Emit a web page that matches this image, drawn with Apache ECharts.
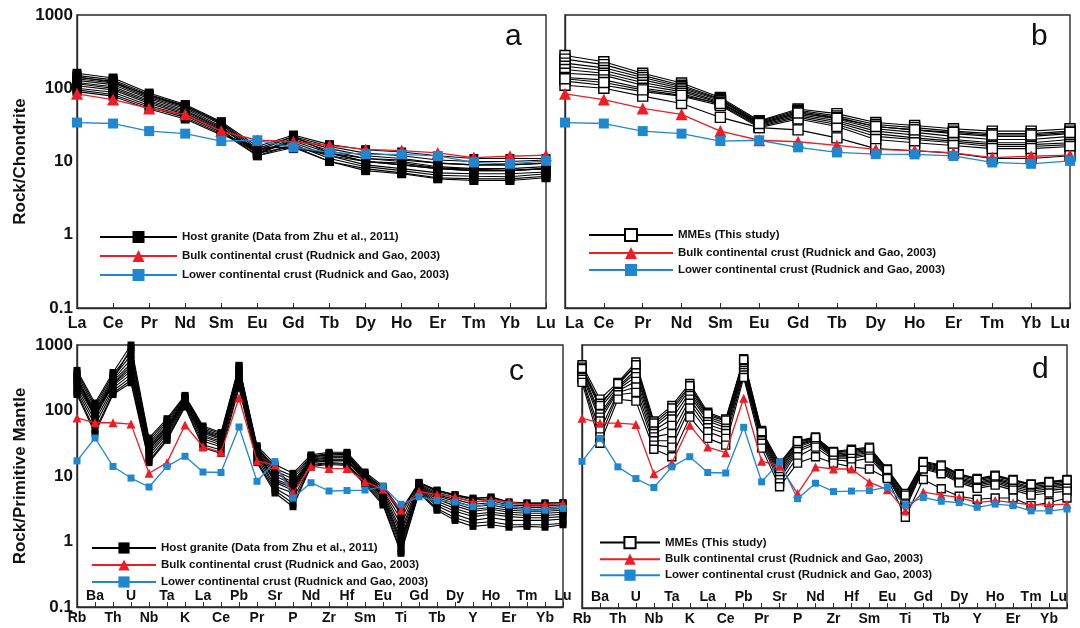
<!DOCTYPE html>
<html>
<head>
<meta charset="utf-8">
<script src="https://cdn.jsdelivr.net/npm/echarts@6/dist/echarts.min.js"></script>
<style>
  html, body { margin: 0; background: #fff; }
  #chart { width: 1080px; height: 628px; }
</style>
</head>
<body>
<div id="chart"></div>
<script>
// element orders
const reeLabels = ['La', 'Ce', 'Pr', 'Nd', 'Sm', 'Eu', 'Gd', 'Tb', 'Dy', 'Ho', 'Er', 'Tm', 'Yb', 'Lu'];
const spiderLabels = ['Rb', 'Ba', 'Th', 'U', 'Nb', 'Ta', 'K', 'La', 'Ce', 'Pb', 'Pr', 'Sr', 'P', 'Nd', 'Zr',
    'Hf', 'Sm', 'Eu', 'Ti', 'Gd', 'Tb', 'Dy', 'Y', 'Ho', 'Er', 'Tm', 'Yb', 'Lu'];
const yTicks = [0.1, 1, 10, 100, 1000];

// reference crusts (Rudnick and Gao, 2003)
const bulkCrustREE = [84, 70, 53, 44, 26, 19.5, 18.6, 16.6, 14.6, 14.1, 13.1, 11.3, 11.8, 12.2];
const lowerCrustREE = [34, 33, 26, 24, 19, 19.5, 15.6, 13.3, 12.6, 12.5, 11.9, 9.7, 9.3, 10.2];
const bulkCrustSpider = [77, 65, 65, 62, 11, 16, 60, 28, 23, 155, 17, 14.7, 5.5, 14, 13, 13, 8.2, 6.3, 3.0,
    5.8, 5.2, 4.8, 4.0, 4.3, 4.0, 3.7, 3.7, 3.8];
const lowerCrustSpider = [17, 38, 14, 9.3, 6.8, 14, 20, 11.5, 11.3, 56, 8.3, 16.6, 4.6, 7.9, 5.9, 6.0, 6.1,
    6.9, 3.7, 4.8, 4.2, 4.0, 3.4, 3.8, 3.6, 3.0, 3.0, 3.2];

// host granite, chondrite normalised (panel a)
const graniteREE = [
    [160, 138, 86, 60, 35, 16, 23, 17, 14.5, 13.5, 12, 11, 11, 11],
    [150, 130, 82, 58, 33, 14, 22, 16, 13, 12, 10.5, 10, 10, 10.5],
    [140, 125, 78, 55, 32, 13, 21, 15, 12, 11, 9.5, 9, 9, 9.5],
    [135, 118, 75, 53, 30, 12.5, 20, 14, 11, 10, 8.5, 8, 8, 8.5],
    [128, 112, 72, 50, 29, 13, 19, 13, 10, 9, 8, 7.5, 7.5, 8],
    [120, 105, 68, 48, 28, 14, 18, 12, 9, 8, 7, 6.8, 6.8, 7.2],
    [115, 100, 65, 46, 27, 12, 17, 11, 8.5, 7.5, 6.5, 6.3, 6.2, 6.8],
    [108, 95, 62, 44, 26, 13, 16, 10, 8, 7, 6, 5.8, 5.8, 6.3],
    [100, 88, 58, 42, 25, 12, 15.5, 10, 7.5, 6.8, 5.8, 5.5, 5.5, 6],
    [95, 82, 55, 40, 24, 15, 16, 12, 10, 9, 8, 7.5, 7.5, 8],
    [90, 78, 52, 38, 23, 16, 15, 13, 11, 10.5, 9.5, 9, 9, 9.5],
    [145, 120, 80, 57, 34, 15, 22, 13, 10, 9.5, 8.2, 7.8, 7.6, 8]
];

// MMEs, chondrite normalised (panel b)
const mmeREE = [
    [280, 230, 160, 118, 75, 36, 52, 45, 34, 31, 28, 26, 26, 28],
    [250, 210, 150, 110, 72, 35, 50, 42, 32, 29, 26, 24, 24, 26],
    [220, 190, 140, 105, 70, 34, 48, 40, 30, 27, 24, 22, 22, 24],
    [200, 175, 130, 100, 68, 33, 46, 38, 28, 25, 22, 20, 20, 22],
    [180, 160, 120, 95, 65, 32, 44, 36, 26, 23, 20, 18, 18, 20],
    [160, 150, 110, 90, 63, 31, 42, 34, 24, 21, 19, 17, 17, 18],
    [140, 130, 100, 85, 60, 30, 40, 32, 22, 20, 18, 16, 16, 17],
    [125, 110, 90, 78, 58, 29, 38, 30, 20, 18, 16.5, 15, 15, 16],
    [110, 100, 78, 62, 40, 29, 27, 21, 15, 14, 13, 11, 11, 12],
    [135, 120, 95, 80, 62, 33, 46, 39, 30, 27, 25, 23, 23, 25]
];

// host granite, primitive mantle normalised (panel c)
const graniteSpider = [
    [410, 130, 380, 1000, 38, 75, 170, 58, 46, 480, 29, 15, 11, 21, 23, 23, 11.5, 7, 3, 8, 6, 5.2, 4.5, 4.8, 4, 3.9, 3.9, 3.9],
    [380, 120, 350, 800, 35, 70, 165, 55, 44, 450, 28, 13, 10, 20, 22, 22, 11, 6.5, 2.6, 7.8, 5.8, 5, 4.3, 4.5, 3.8, 3.7, 3.7, 3.8],
    [350, 110, 320, 700, 32, 65, 160, 52, 42, 420, 27, 12, 9, 19.5, 21, 21, 10.5, 6, 2.2, 7.5, 5.5, 4.7, 4, 4.2, 3.6, 3.5, 3.5, 3.6],
    [320, 100, 300, 600, 30, 60, 155, 50, 40, 400, 26, 11, 8, 19, 20, 20, 10, 5.8, 1.8, 7.2, 5.2, 4.4, 3.7, 3.9, 3.4, 3.3, 3.3, 3.4],
    [300, 95, 280, 520, 28, 56, 150, 47, 38, 380, 25, 10, 7.5, 18, 19.5, 19.5, 9.7, 5.5, 1.5, 7, 5, 4.1, 3.4, 3.6, 3.2, 3.1, 3.1, 3.2],
    [280, 90, 260, 480, 26, 52, 145, 45, 36, 360, 24, 9, 7, 17.5, 19, 19, 9.4, 5.2, 1.3, 6.8, 4.7, 3.8, 3.1, 3.3, 3, 2.9, 2.9, 3],
    [260, 85, 250, 440, 25, 50, 140, 42, 34, 340, 23, 8.5, 6.5, 17, 18, 18, 9, 5, 1.1, 6.6, 4.4, 3.5, 2.9, 3.1, 2.8, 2.7, 2.7, 2.8],
    [240, 80, 240, 400, 23, 47, 135, 40, 32, 320, 22, 8, 6, 16.5, 17.5, 17.5, 8.7, 4.8, 1, 6.4, 4.1, 3.2, 2.6, 2.8, 2.6, 2.5, 2.5, 2.6],
    [220, 70, 220, 360, 21, 44, 130, 37, 30, 300, 21, 7, 5.5, 16, 17, 17, 8.4, 4.5, 0.9, 6.2, 3.8, 2.9, 2.4, 2.6, 2.4, 2.3, 2.3, 2.4],
    [200, 60, 200, 320, 19, 40, 125, 34, 28, 270, 19, 6.5, 4.5, 15, 16, 15.5, 8, 4.2, 0.8, 6, 3.5, 2.6, 2.1, 2.3, 2.1, 2.1, 2.1, 2.2],
    [185, 50, 185, 290, 17, 37, 118, 30, 25, 240, 17, 6, 3.8, 14.5, 15.5, 15, 7.6, 3.9, 0.7, 5.7, 3.2, 2.3, 1.9, 2, 1.8, 1.8, 1.8, 1.9],
    [175, 45, 175, 265, 16, 35, 113, 27, 22, 220, 16, 5.5, 3.4, 14, 15, 14.5, 7.4, 3.6, 0.66, 5.5, 3, 2.1, 1.7, 1.8, 1.65, 1.7, 1.65, 1.8],
    [330, 75, 300, 900, 28, 55, 150, 48, 38, 490, 26, 14, 6.5, 19, 22, 21, 10, 6.8, 2.8, 7.9, 6.1, 5.1, 4.6, 4.7, 4, 3.8, 3.8, 3.9]
];

// MMEs, primitive mantle normalised (panel d)
const mmeSpider = [
    [500, 150, 270, 550, 70, 120, 260, 95, 75, 620, 50, 16, 35, 40, 24, 26, 28, 13, 5.5, 17, 15, 11, 9.3, 10.5, 9, 7.7, 8.4, 9],
    [460, 130, 250, 480, 60, 100, 230, 85, 70, 560, 46, 14, 33, 38, 23, 24, 26, 12.5, 5, 16, 14, 10.5, 9, 10, 8.6, 7.4, 8, 8.6],
    [420, 110, 230, 420, 55, 90, 210, 80, 65, 500, 44, 13, 31, 37, 22, 23, 25, 12, 4.6, 15.5, 13.5, 10, 8.6, 9.6, 8.2, 7, 7.6, 8.2],
    [400, 90, 220, 380, 50, 75, 190, 75, 60, 470, 42, 12, 30, 36, 21, 22, 24, 11.5, 4.3, 15, 13, 9.6, 8.2, 9.2, 7.8, 6.7, 7.2, 7.8],
    [380, 80, 210, 330, 45, 60, 170, 70, 55, 440, 40, 11, 28, 35, 20.5, 21, 23, 11, 4, 14.5, 12.5, 9.2, 7.8, 8.8, 7.4, 6.4, 6.9, 7.4],
    [350, 70, 200, 280, 40, 45, 150, 62, 50, 410, 38, 10, 26, 33, 20, 20, 22, 10.5, 3.8, 14, 12, 8.8, 7.4, 8.4, 7, 6, 6.5, 7],
    [320, 50, 190, 230, 35, 35, 130, 55, 45, 380, 35, 9, 24, 31, 19, 19, 21, 10, 3.5, 13.5, 11.5, 8.4, 7, 8, 6.6, 5.6, 6.1, 6.6],
    [300, 40, 175, 190, 30, 28, 110, 48, 38, 350, 32, 8, 20, 28, 18, 17, 19, 9.8, 3.2, 13, 11, 8, 6.6, 7.4, 6.2, 5.2, 5.6, 6],
    [270, 32, 150, 140, 26, 20, 80, 38, 30, 320, 27, 7, 16, 20, 16, 14, 13, 9.3, 2.4, 9, 6.5, 5, 4.5, 4.7, 4.7, 3.6, 4, 4.7],
    [440, 120, 260, 500, 65, 110, 240, 90, 72, 600, 48, 15, 34, 39, 23.5, 25, 27, 12.8, 5.2, 16.5, 14.5, 10.8, 9.1, 10.2, 8.8, 7.6, 8.2, 8.8]
];

const GRANITE = 'Host granite (Data from Zhu et al., 2011)';
const MME = 'MMEs (This study)';
const BULK = 'Bulk continental crust (Rudnick and Gao, 2003)';
const LOWER = 'Lower continental crust (Rudnick and Gao, 2003)';

const FONT = '"Liberation Sans", Arial, sans-serif';
const RED = '#ee1c24';
const BLUE = '#1f87cf';
const FRAME = '#2a2a2a';

const chart = echarts.init(document.getElementById('chart'));

function xCat(gridIndex, labels, opts) {
    return Object.assign({
        type: 'category',
        gridIndex: gridIndex,
        data: labels,
        boundaryGap: false,
        position: 'bottom',
        axisLine: { lineStyle: { color: FRAME, width: 1.4 } },
        axisTick: { inside: true, length: 5, interval: 0, lineStyle: { color: FRAME } },
        axisLabel: {
            interval: 0, margin: 8, color: '#111', fontFamily: FONT,
            fontWeight: 'bold', fontSize: 16
        },
        splitLine: { show: false }
    }, opts);
}

function yLog(gridIndex, showLabels, name) {
    return {
        type: 'log',
        logBase: 10,
        gridIndex: gridIndex,
        min: 0.1,
        max: 1000,
        name: name || '',
        nameLocation: 'middle',
        nameGap: 48,
        nameTextStyle: { color: '#111', fontFamily: FONT, fontWeight: 'bold', fontSize: 17 },
        axisLine: { show: true, lineStyle: { color: FRAME, width: 1.4 } },
        axisTick: { inside: true, length: 5, lineStyle: { color: FRAME } },
        minorTick: { show: false },
        splitLine: { show: false },
        axisLabel: {
            show: showLabels, margin: 4, color: '#111', fontFamily: FONT,
            fontWeight: 'bold', fontSize: 17,
            formatter: v => String(yTicks.find(t => Math.abs(t - v) / t < 1e-6) || v)
        }
    };
}

function sampleSeries(rows, name, xi, yi, hollow, size) {
    return rows.map(row => ({
        type: 'line',
        name: name,
        xAxisIndex: xi,
        yAxisIndex: yi,
        data: row,
        symbol: 'rect',
        symbolSize: size,
        lineStyle: { color: '#000', width: 1.1 },
        itemStyle: hollow
            ? { color: '#fff', borderColor: '#000', borderWidth: 1.4 }
            : { color: '#000' },
        z: 2
    }));
}

function crustSeries(data, name, xi, yi, color, symbol, size) {
    return {
        type: 'line',
        name: name,
        xAxisIndex: xi,
        yAxisIndex: yi,
        data: data,
        symbol: symbol,
        symbolSize: size,
        lineStyle: { color: color, width: 1.3 },
        itemStyle: { color: color },
        z: 4
    };
}

function legendAt(left, top, width, height, gap, names) {
    return {
        orient: 'vertical',
        left: left,
        top: top,
        itemWidth: width,
        itemHeight: height,
        itemGap: gap,
        data: names,
        selectedMode: false,
        textStyle: { color: '#111', fontFamily: FONT, fontWeight: 'bold', fontSize: 11.5 }
    };
}

function letter(text, left, top) {
    return {
        text: text, left: left, top: top,
        textStyle: { color: '#111', fontFamily: FONT, fontWeight: 'normal', fontSize: 30 }
    };
}

const grid = { show: true, borderColor: FRAME, borderWidth: 1.4, backgroundColor: 'transparent' };

chart.setOption({
    animation: false,
    backgroundColor: '#fff',
    title: [letter('a', 500, 17), letter('b', 1026, 17), letter('c', 504, 352), letter('d', 1027, 350)],
    grid: [
        Object.assign({ left: 77, top: 15, width: 469, height: 293 }, grid),
        Object.assign({ left: 565, top: 15, width: 505, height: 293 }, grid),
        Object.assign({ left: 77, top: 345, width: 486, height: 262 }, grid),
        Object.assign({ left: 582, top: 345, width: 485, height: 263 }, grid)
    ],
    xAxis: [
        xCat(0, reeLabels, {
            axisLabel: {
                interval: 0, margin: 8, color: '#111', fontFamily: FONT,
                fontWeight: 'bold', fontSize: 16, alignMaxLabel: 'center'
            }
        }),
        xCat(1, reeLabels, {
            axisLabel: {
                interval: 0, margin: 8, color: '#111', fontFamily: FONT,
                fontWeight: 'bold', fontSize: 16, alignMinLabel: 'left', alignMaxLabel: 'right'
            }
        }),
        xCat(2, spiderLabels, {
            axisLabel: {
                interval: (i) => i % 2 === 0, margin: 4, color: '#111', fontFamily: FONT,
                fontWeight: 'bold', fontSize: 14
            }
        }),
        xCat(2, spiderLabels, {
            axisLine: { show: false },
            axisTick: { show: false },
            axisLabel: {
                inside: true, interval: (i) => i % 2 === 1, margin: 4, color: '#111', fontFamily: FONT,
                fontWeight: 'bold', fontSize: 14
            }
        }),
        xCat(3, spiderLabels, {
            axisLabel: {
                interval: (i) => i % 2 === 0, margin: 4, color: '#111', fontFamily: FONT,
                fontWeight: 'bold', fontSize: 14
            }
        }),
        xCat(3, spiderLabels, {
            axisLine: { show: false },
            axisTick: { show: false },
            axisLabel: {
                inside: true, interval: (i) => i % 2 === 1, margin: 4, color: '#111', fontFamily: FONT,
                fontWeight: 'bold', fontSize: 14, alignMaxLabel: 'right'
            }
        })
    ],
    yAxis: [
        yLog(0, true, 'Rock/Chondrite'),
        yLog(1, false),
        yLog(2, true, 'Rock/Primitive Mantle'),
        yLog(3, false)
    ],
    legend: [
        legendAt(94, 226, 77, 15, 7, [GRANITE, BULK, LOWER]),
        legendAt(583, 223, 84, 15, 5, [MME, BULK, LOWER]),
        legendAt(86, 537, 64, 14, 5, [GRANITE, BULK, LOWER]),
        legendAt(594, 531, 60, 14, 4, [MME, BULK, LOWER])
    ],
    series: [].concat(
        sampleSeries(graniteREE, GRANITE, 0, 0, false, 9),
        [crustSeries(bulkCrustREE, BULK, 0, 0, RED, 'triangle', 12),
         crustSeries(lowerCrustREE, LOWER, 0, 0, BLUE, 'rect', 10)],
        sampleSeries(mmeREE, MME, 1, 1, true, 10),
        [crustSeries(bulkCrustREE, BULK, 1, 1, RED, 'triangle', 12),
         crustSeries(lowerCrustREE, LOWER, 1, 1, BLUE, 'rect', 10)],
        sampleSeries(graniteSpider, GRANITE, 2, 2, false, 7),
        [crustSeries(bulkCrustSpider, BULK, 2, 2, RED, 'triangle', 9),
         crustSeries(lowerCrustSpider, LOWER, 2, 2, BLUE, 'rect', 7)],
        sampleSeries(mmeSpider, MME, 4, 3, true, 8),
        [crustSeries(bulkCrustSpider, BULK, 4, 3, RED, 'triangle', 9),
         crustSeries(lowerCrustSpider, LOWER, 4, 3, BLUE, 'rect', 7)]
    )
});
</script>
</body>
</html>
